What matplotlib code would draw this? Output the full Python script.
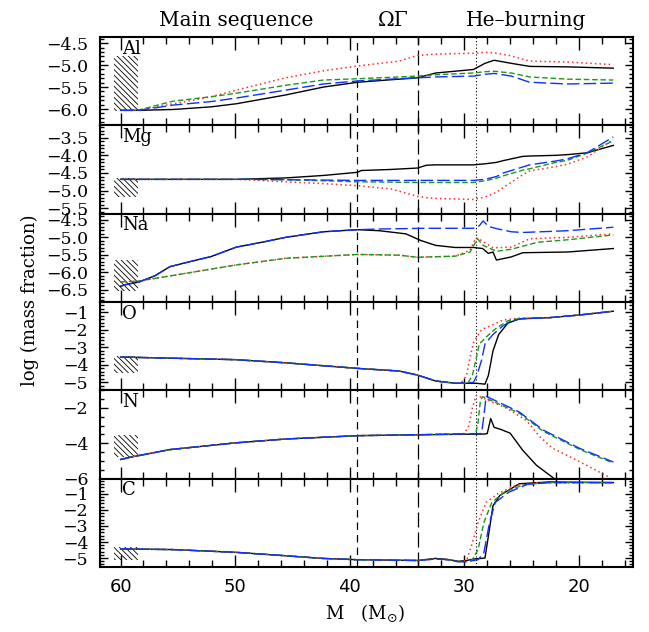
import matplotlib
matplotlib.use("Agg")
import matplotlib.pyplot as plt
from matplotlib.ticker import MultipleLocator, FixedLocator

# ---------------- data ----------------
# Al panel
al_x = [60, 58.4, 55.4, 52.1, 49.9, 45.6, 42.3, 39.3, 35.7, 34.1, 32.5, 29.2, 28.2, 27.4, 25.9, 24.3, 21.0, 17.0]
al_black = [-6.03, -6.03, -6.01, -5.95, -5.88, -5.68, -5.50, -5.39, -5.32, -5.29, -5.18, -5.10, -4.96, -4.89, -4.96, -5.03, -5.04, -5.07]
al_red = [-6.03, -6.03, -5.88, -5.72, -5.57, -5.29, -5.13, -5.02, -4.91, -4.78, -4.75, -4.73, -4.71, -4.72, -4.79, -4.91, -4.93, -4.99]
al_green = [-6.03, -6.02, -5.82, -5.72, -5.64, -5.46, -5.34, -5.31, -5.27, -5.25, -5.22, -5.18, -5.15, -5.14, -5.18, -5.27, -5.32, -5.34]
al_blue = [-6.03, -6.03, -5.91, -5.83, -5.75, -5.57, -5.43, -5.36, -5.31, -5.29, -5.27, -5.25, -5.21, -5.19, -5.25, -5.39, -5.43, -5.41]

# Mg panel
mg_x = [60, 55.4, 49.9, 48.9, 45.6, 42.3, 39.3, 39.0, 36.4, 34.1, 33.3, 32.5, 29.2, 28.2, 27.2, 26.6, 24.9, 24.3, 22.0, 21.0, 19.3, 17.0]
mg_black = [-4.68, -4.68, -4.68, -4.67, -4.64, -4.57, -4.48, -4.43, -4.40, -4.36, -4.28, -4.27, -4.27, -4.24, -4.20, -4.15, -4.03, -4.02, -4.00, -3.98, -3.93, -3.72]
mg_red = [-4.68, -4.68, -4.68, -4.69, -4.75, -4.80, -4.86, -4.87, -4.95, -5.16, -5.20, -5.22, -5.25, -5.18, -5.05, -4.91, -4.55, -4.44, -4.32, -4.25, -4.05, -3.55]
mg_green = [-4.68, -4.68, -4.68, -4.68, -4.69, -4.72, -4.75, -4.75, -4.76, -4.77, -4.77, -4.77, -4.77, -4.72, -4.65, -4.58, -4.42, -4.38, -4.20, -4.14, -3.94, -3.59]
mg_blue = [-4.68, -4.68, -4.68, -4.68, -4.69, -4.70, -4.71, -4.71, -4.71, -4.71, -4.71, -4.71, -4.71, -4.68, -4.60, -4.50, -4.33, -4.27, -4.16, -4.10, -3.93, -3.48]

# Na panel
na_x_black = [60, 59.5, 58.4, 57, 55.7, 54, 52.1, 49.9, 47.5, 45.6, 42.3, 39.3, 37.4, 35.1, 33.8, 32.5, 30.8, 29.2, 28.4, 27.9, 27.5, 27.2, 25.9, 24.9, 21.0, 17.0]
na_black = [-6.40, -6.35, -6.28, -6.10, -5.84, -5.70, -5.55, -5.28, -5.13, -5.00, -4.84, -4.78, -4.81, -4.90, -5.09, -5.23, -5.29, -5.29, -5.32, -5.46, -5.42, -5.65, -5.56, -5.44, -5.42, -5.32]
na_x_blue = [60, 59.5, 58.4, 57, 55.7, 54, 52.1, 49.9, 47.5, 45.6, 42.3, 39.3, 37.4, 35.1, 33.8, 32.5, 30.8, 29.2, 28.7, 28.36, 27.87, 27.2, 25.9, 24.9, 21.0, 17.0]
na_blue = [-6.40, -6.35, -6.28, -6.10, -5.84, -5.70, -5.55, -5.28, -5.13, -5.00, -4.84, -4.78, -4.76, -4.75, -4.74, -4.74, -4.74, -4.74, -4.67, -4.53, -4.69, -4.75, -4.84, -4.86, -4.81, -4.71]
na_x_red = [60, 58.4, 55.4, 49.9, 45.6, 39.3, 35.7, 34.1, 30.8, 29.5, 29.0, 28.5, 27.5, 25.9, 24.3, 21.0, 17.0]
na_red = [-6.28, -6.25, -6.09, -5.79, -5.60, -5.49, -5.51, -5.57, -5.54, -5.37, -5.01, -5.09, -5.30, -5.28, -5.04, -5.00, -4.90]
na_x_green = [60, 58.4, 55.4, 49.9, 45.6, 39.3, 35.7, 34.1, 30.8, 29.5, 28.85, 28.36, 27.2, 25.9, 23.6, 21.0, 17.0]
na_green = [-6.28, -6.25, -6.09, -5.79, -5.60, -5.49, -5.51, -5.57, -5.54, -5.42, -5.04, -5.23, -5.40, -5.34, -5.14, -5.07, -4.93]

# O panel
o_x_black = [60, 50, 45.6, 39.3, 35.7, 34.1, 32.5, 30.8, 29.0, 28.2, 27.9, 27.5, 27.0, 26.2, 25.2, 22.6, 20.0, 17.0]
o_black = [-3.55, -3.70, -3.88, -4.20, -4.35, -4.58, -4.92, -5.05, -5.05, -5.10, -4.60, -3.20, -2.26, -1.61, -1.37, -1.30, -1.15, -0.93]
o_x_red = [60, 50, 45.6, 39.3, 35.7, 34.1, 32.5, 30.8, 30.3, 29.8, 29.5, 29.2, 28.5, 27.5, 26.6, 25.2, 22.6, 20.0, 17.0]
o_red = [-3.55, -3.70, -3.88, -4.20, -4.35, -4.58, -4.92, -5.05, -5.05, -4.60, -3.56, -2.72, -1.98, -1.70, -1.43, -1.33, -1.30, -1.15, -0.93]
o_x_green = [60, 50, 45.6, 39.3, 35.7, 34.1, 32.5, 30.8, 29.7, 29.3, 29.0, 28.7, 28.0, 27.2, 26.2, 25.2, 22.6, 20.0, 17.0]
o_green = [-3.55, -3.70, -3.88, -4.20, -4.35, -4.58, -4.92, -5.05, -5.05, -4.60, -3.74, -2.81, -2.35, -1.89, -1.48, -1.35, -1.30, -1.15, -0.93]
o_x_blue = [60, 50, 45.6, 39.3, 35.7, 34.1, 32.5, 30.8, 29.2, 28.9, 28.5, 28.2, 27.5, 26.7, 25.9, 25.0, 22.6, 20.0, 17.0]
o_blue = [-3.55, -3.70, -3.88, -4.20, -4.35, -4.58, -4.92, -5.05, -5.00, -4.60, -3.74, -2.81, -2.26, -1.80, -1.48, -1.36, -1.30, -1.15, -0.93]

# N panel
n_x_black = [60, 59.0, 55.7, 50.0, 45.6, 39.3, 34.1, 28.3, 28.0, 27.7, 27.4, 26.8, 26.0, 24.9, 23.7, 22.3, 21.3]
n_black = [-4.92, -4.77, -4.36, -3.98, -3.76, -3.57, -3.52, -3.48, -3.45, -2.60, -3.10, -3.22, -3.43, -4.40, -5.25, -5.93, -6.40]
n_x_red = [60, 59.0, 55.7, 50.0, 45.6, 39.3, 34.1, 30.0, 29.6, 29.3, 28.95, 26.3, 24.6, 23.4, 22.3, 19.9, 17.3]
n_red = [-4.92, -4.77, -4.36, -3.98, -3.76, -3.57, -3.52, -3.45, -3.00, -2.00, -1.28, -2.02, -2.70, -3.64, -4.28, -5.06, -5.94]
n_x_green = [60, 59.0, 55.7, 50.0, 45.6, 39.3, 34.1, 29.0, 28.8, 28.6, 28.4, 25.2, 23.1, 19.9, 17.0]
n_green = [-4.92, -4.77, -4.36, -3.98, -3.76, -3.57, -3.52, -3.45, -2.80, -1.60, -1.36, -2.30, -3.33, -4.36, -5.12]
n_x_blue = [60, 59.0, 55.7, 50.0, 45.6, 39.3, 34.1, 28.5, 28.3, 28.1, 25.2, 23.1, 19.9, 17.0]
n_blue = [-4.92, -4.77, -4.36, -3.98, -3.76, -3.57, -3.52, -3.45, -2.50, -1.34, -2.23, -3.26, -4.30, -5.06]

# C panel
c_x_black = [60, 55.5, 50.0, 45.7, 42.4, 39.4, 34.1, 32.5, 31.5, 30.5, 29.8, 29.2, 28.2, 27.9, 27.5, 26.9, 25.2, 22.6, 17.0]
c_black = [-4.43, -4.47, -4.64, -4.85, -5.02, -5.10, -5.15, -5.02, -5.08, -5.20, -5.15, -5.06, -5.00, -3.63, -1.74, -1.10, -0.37, -0.26, -0.30]
c_x_red = [60, 55.5, 50.0, 45.7, 42.4, 39.4, 34.1, 32.5, 31.5, 30.5, 29.8, 29.3, 28.8, 28.1, 27.1, 25.5, 23.8, 17.0]
c_red = [-4.43, -4.47, -4.64, -4.85, -5.02, -5.10, -5.15, -5.06, -5.10, -5.23, -5.15, -4.05, -2.79, -1.53, -1.00, -0.47, -0.31, -0.30]
c_x_green = [60, 55.5, 50.0, 45.7, 42.4, 39.4, 34.1, 32.5, 31.5, 30.5, 29.8, 29.3, 28.8, 28.3, 27.6, 26.5, 24.8, 22.6, 17.0]
c_green = [-4.43, -4.47, -4.64, -4.85, -5.02, -5.10, -5.15, -5.06, -5.10, -5.23, -5.23, -5.10, -4.47, -2.79, -1.53, -0.89, -0.43, -0.30, -0.30]
c_x_blue = [60, 55.5, 50.0, 45.7, 42.4, 39.4, 34.1, 32.5, 31.5, 30.5, 29.8, 28.8, 28.3, 27.8, 27.3, 26.1, 24.5, 22.6, 17.0]
c_blue = [-4.43, -4.47, -4.64, -4.85, -5.02, -5.10, -5.15, -5.06, -5.10, -5.23, -5.23, -5.10, -4.68, -2.79, -1.53, -0.89, -0.41, -0.30, -0.30]

panel_names = ["Al", "Mg", "Na", "O", "N", "C"]
panel_ylims = [(-6.37, -4.36), (-5.65, -3.15), (-6.85, -4.32), (-5.45, -0.4), (-6.0, -1.0), (-5.55, -0.05)]
panel_major = [0.5, 0.5, 0.5, 1.0, 2.0, 1.0]
panel_minor = [0.1, 0.1, 0.1, 0.2, 0.5, 0.2]
hatch_ranges = [(-6.04, -4.79), (-5.18, -4.64), (-6.54, -5.65), (-4.46, -3.5), (-4.75, -3.55), (-5.1, -4.29)]
hatch_x = [60.6, 58.45]

phase_labels = ["Main sequence", "\u03a9\u0393", "He\u2013burning"]
phase_label_x = [49.9, 36.2, 24.6]
vline_x = [39.4, 34.0, 29.0]

xticks_major = [60, 50, 40, 30, 20]

# ---------------- figure ----------------
fig = plt.figure(figsize=(6.49, 6.32), dpi=100)
left, right, bottom, top = 0.154, 0.975, 0.103, 0.9415
h = (top - bottom) / 6

panels = [
    [(al_x, al_black), (al_x, al_red), (al_x, al_green), (al_x, al_blue)],
    [(mg_x, mg_black), (mg_x, mg_red), (mg_x, mg_green), (mg_x, mg_blue)],
    [(na_x_black, na_black), (na_x_red, na_red), (na_x_green, na_green), (na_x_blue, na_blue)],
    [(o_x_black, o_black), (o_x_red, o_red), (o_x_green, o_green), (o_x_blue, o_blue)],
    [(n_x_black, n_black), (n_x_red, n_red), (n_x_green, n_green), (n_x_blue, n_blue)],
    [(c_x_black, c_black), (c_x_red, c_red), (c_x_green, c_green), (c_x_blue, c_blue)],
]
styles = [
    dict(color="black", linestyle="-", lw=1.0),
    dict(color="#ff2a2a", linestyle=(0, (1, 2)), lw=1.1),
    dict(color="#1a9a1a", linestyle=(0, (4, 2)), lw=1.0),
    dict(color="#1030ff", linestyle=(0, (9, 3)), lw=1.0),
]
vstyles = [
    dict(color="black", linestyle=(0, (6, 4)), lw=0.9),
    dict(color="black", linestyle=(0, (12, 4)), lw=0.9),
    dict(color="black", linestyle=(0, (1, 2)), lw=0.8),
]

serif = "DejaVu Serif"
plt.rcParams["hatch.linewidth"] = 0.6
axes = []
for i in range(6):
    ax = fig.add_axes([left, top - (i + 1) * h, right - left, h])
    axes.append(ax)
    for k in range(4):
        xs, ys = panels[i][k]
        ax.plot(xs, ys, **styles[k], zorder=2 + 0.1 * k)
    for vx, vs in zip(vline_x, vstyles):
        ax.axvline(vx, **vs, zorder=1)
    lo, hi = hatch_ranges[i]
    ax.fill_between(hatch_x, [lo, lo], [hi, hi], facecolor="none", edgecolor="black",
                    hatch="\\" * 6, linewidth=0, zorder=1)
    ax.set_xlim(61.8, 15.3)
    ax.set_ylim(*panel_ylims[i])
    ax.xaxis.set_major_locator(FixedLocator(xticks_major))
    ax.xaxis.set_minor_locator(MultipleLocator(2))
    ax.yaxis.set_major_locator(MultipleLocator(panel_major[i]))
    ax.yaxis.set_minor_locator(MultipleLocator(panel_minor[i]))
    ax.tick_params(which="both", direction="in", top=True, right=True, width=1.0)
    ax.tick_params(which="major", axis="x", length=9)
    ax.tick_params(which="minor", axis="x", length=5)
    ax.tick_params(which="major", axis="y", length=6)
    ax.tick_params(which="minor", axis="y", length=3)
    for sp in ax.spines.values():
        sp.set_linewidth(1.5)
    for lab in ax.get_yticklabels():
        lab.set_fontfamily(serif)
        lab.set_fontsize(12.5)
    ax.tick_params(axis="y", pad=8.5)
    if i < 5:
        ax.tick_params(labelbottom=False)
    else:
        for lab in ax.get_xticklabels():
            lab.set_fontfamily("DejaVu Sans")
            lab.set_fontsize(13)
        ax.tick_params(axis="x", pad=8)
    ax.text(59.9, 0.97, panel_names[i], transform=ax.get_xaxis_transform(),
            ha="left", va="top", fontsize=13, fontfamily=serif)

ax0 = axes[0]
for lab, lx in zip(phase_labels, phase_label_x):
    ax0.text(lx, 1.08, lab, transform=ax0.get_xaxis_transform(), ha="center", va="bottom",
             fontsize=14.5, fontfamily=serif)

fig.text(0.046, 0.525, "log (mass fraction)", rotation=90, ha="center", va="center",
         fontsize=13, fontfamily=serif)
fig.text(0.562, 0.03, r"M   (M$_{\odot}$)", ha="center", va="center",
         fontsize=13, fontfamily=serif)

fig.savefig("out.png", dpi=100)
